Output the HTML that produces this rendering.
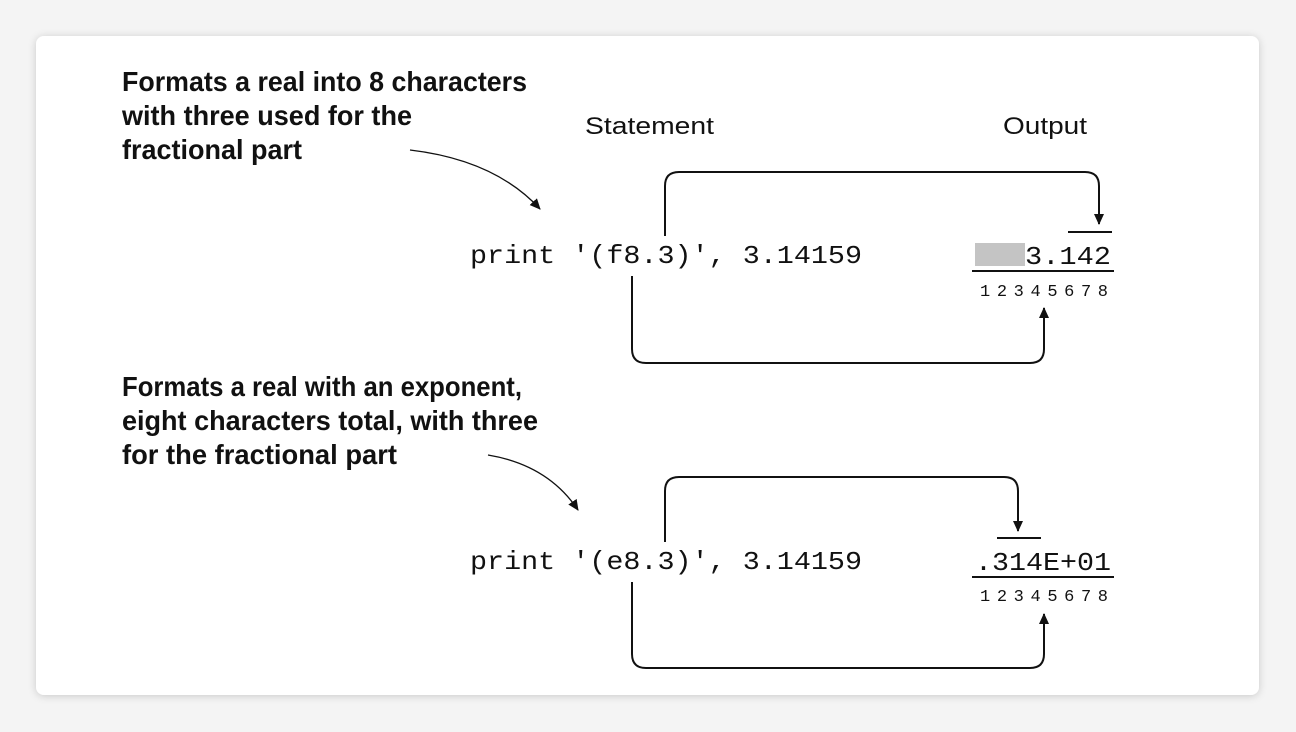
<!DOCTYPE html>
<html><head><meta charset="utf-8"><style>
html,body{margin:0;padding:0;background:#f4f4f4;}
svg{display:block;}
</style></head><body>
<svg width="1296" height="732" viewBox="0 0 1296 732" xmlns="http://www.w3.org/2000/svg">
<defs>
<filter id="sh" x="-5%" y="-5%" width="110%" height="110%"><feDropShadow dx="0" dy="1" stdDeviation="4" flood-color="#000" flood-opacity="0.18"/></filter>
<marker id="ah" markerWidth="12" markerHeight="12" refX="10" refY="5" orient="auto" markerUnits="userSpaceOnUse"><path d="M0,0 L11,5 L0,10 Z" fill="#111"/></marker>
</defs>
<rect x="0" y="0" width="1296" height="732" fill="#f4f4f4"/>
<rect x="36" y="36" width="1223" height="659" rx="8" fill="#fff" filter="url(#sh)"/>
<g font-family="Liberation Sans, sans-serif" font-weight="bold" font-size="28" fill="#111">
<text x="122" y="91" textLength="405" lengthAdjust="spacingAndGlyphs">Formats a real into 8 characters</text>
<text x="122" y="125" textLength="290" lengthAdjust="spacingAndGlyphs">with three used for the</text>
<text x="122" y="159" textLength="180" lengthAdjust="spacingAndGlyphs">fractional part</text>
<text x="122" y="396" textLength="400" lengthAdjust="spacingAndGlyphs">Formats a real with an exponent,</text>
<text x="122" y="430" textLength="416" lengthAdjust="spacingAndGlyphs">eight characters total, with three</text>
<text x="122" y="464" textLength="275" lengthAdjust="spacingAndGlyphs">for the fractional part</text>
</g>
<g font-family="Liberation Sans, sans-serif" font-size="24" fill="#111">
<text x="585" y="134" textLength="129" lengthAdjust="spacingAndGlyphs">Statement</text>
<text x="1003" y="134" textLength="84" lengthAdjust="spacingAndGlyphs">Output</text>
</g>
<g font-family="Liberation Mono, monospace" font-size="26" fill="#111">
<text x="470" y="263" textLength="392" lengthAdjust="spacingAndGlyphs">print '(f8.3)', 3.14159</text>
<text x="470" y="569" textLength="392" lengthAdjust="spacingAndGlyphs">print '(e8.3)', 3.14159</text>
<text x="1025" y="264" textLength="86" lengthAdjust="spacingAndGlyphs">3.142</text>
<text x="975" y="570" textLength="136" lengthAdjust="spacingAndGlyphs">.314E+01</text>
</g>
<g font-family="Liberation Mono, monospace" font-size="17" fill="#111">
<text x="980" y="296" textLength="128" lengthAdjust="spacing">12345678</text>
<text x="980" y="601" textLength="128" lengthAdjust="spacing">12345678</text>
</g>
<rect x="975" y="243" width="50" height="23" fill="#c4c4c4"/>
<g stroke="#111" stroke-width="2" fill="none">
<line x1="972" y1="271" x2="1114" y2="271"/>
<line x1="1068" y1="232" x2="1112" y2="232"/>
<line x1="972" y1="577" x2="1114" y2="577"/>
<line x1="997" y1="538" x2="1041" y2="538"/>
<path d="M665,236 V186 Q665,172 679,172 H1085 Q1099,172 1099,186 V224" marker-end="url(#ah)"/>
<path d="M632,276 V349 Q632,363 646,363 H1030 Q1044,363 1044,349 V308" marker-end="url(#ah)"/>
<path d="M665,542 V491 Q665,477 679,477 H1004 Q1018,477 1018,491 V531" marker-end="url(#ah)"/>
<path d="M632,582 V654 Q632,668 646,668 H1030 Q1044,668 1044,654 V614" marker-end="url(#ah)"/>
<path d="M410,150 Q495,160 540,209" stroke-width="1.3" marker-end="url(#ah)"/>
<path d="M488,455 Q548,465 578,510" stroke-width="1.3" marker-end="url(#ah)"/>
</g>
</svg>
</body></html>
